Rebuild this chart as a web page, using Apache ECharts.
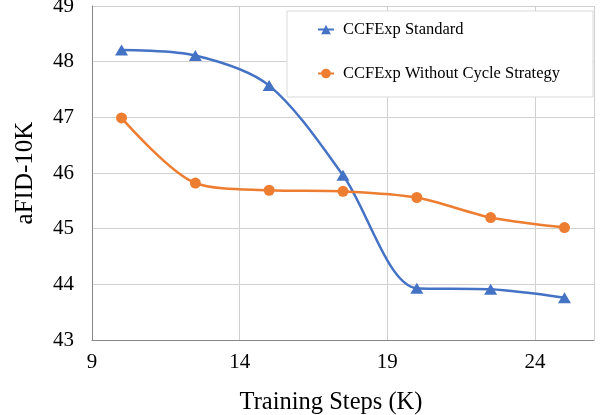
<!DOCTYPE html>
<html>
<head>
<meta charset="utf-8">
<script src="https://cdn.jsdelivr.net/npm/echarts@6/dist/echarts.min.js"></script>
<style>html,body{margin:0;padding:0;background:#fff}#c{width:601px;height:415px}</style>
</head>
<body>
<div id="c"></div>
<script>
const steps = [10, 12.5, 15, 17.5, 20, 22.5, 25];
const standard = [48.21, 48.11, 47.57, 45.96, 43.93, 43.91, 43.76];
const withoutCycle = [46.99, 45.82, 45.69, 45.67, 45.56, 45.20, 45.02];
const seriesNames = ['CCFExp Standard', 'CCFExp Without Cycle Strategy'];
const xTitle = 'Training Steps (K)';
const yTitle = 'aFID-10K';

const font = 'Liberation Serif';
const chart = echarts.init(document.getElementById('c'));
chart.setOption({
  animation: false,
  backgroundColor: '#fff',
  grid: {left: 92, right: 7, top: 6, bottom: 75, containLabel: false, outerBoundsMode: 'none'},
  legend: {
    orient: 'vertical', left: 287, top: 11,
    padding: [10, 33, 15, 30], itemGap: 27,
    itemWidth: 16, itemHeight: 12,
    backgroundColor: '#fff', borderColor: '#d9d9d9', borderWidth: 1,
    textStyle: {fontFamily: font, fontSize: 16.5, color: '#000', padding: [0, 0, 0, 4]},
    data: seriesNames
  },
  xAxis: {
    type: 'value', min: 9, max: 26, interval: 5,
    name: xTitle, nameLocation: 'middle', nameGap: 50,
    nameTextStyle: {fontFamily: font, fontSize: 24.5, color: '#000', padding: [0, 24, 0, 0]},
    axisLine: {show: true, lineStyle: {color: '#868686', width: 1}},
    axisTick: {show: false},
    axisLabel: {fontFamily: font, fontSize: 21, color: '#000', margin: 12, showMaxLabel: false},
    splitLine: {show: true, lineStyle: {color: '#d0d0d0', width: 1}}
  },
  yAxis: {
    type: 'value', min: 43, max: 49, interval: 1,
    name: yTitle, nameLocation: 'middle', nameGap: 54,
    nameTextStyle: {fontFamily: font, fontSize: 25, color: '#000'},
    axisLine: {show: true, lineStyle: {color: '#868686', width: 1}},
    axisTick: {show: false},
    axisLabel: {fontFamily: font, fontSize: 21, color: '#000', margin: 18},
    splitLine: {show: true, lineStyle: {color: '#d0d0d0', width: 1}}
  },
  series: [
    {
      name: seriesNames[0], type: 'line', smooth: 0.3,
      data: steps.map((x, i) => [x, standard[i]]),
      symbol: 'triangle', symbolSize: [13, 11],
      itemStyle: {color: '#4472C4'},
      lineStyle: {color: '#4472C4', width: 2.5}
    },
    {
      name: seriesNames[1], type: 'line', smooth: 0.3,
      data: steps.map((x, i) => [x, withoutCycle[i]]),
      symbol: 'circle', symbolSize: 11,
      itemStyle: {color: '#ED7D31'},
      lineStyle: {color: '#ED7D31', width: 2.5}
    }
  ]
});
</script>
</body>
</html>
